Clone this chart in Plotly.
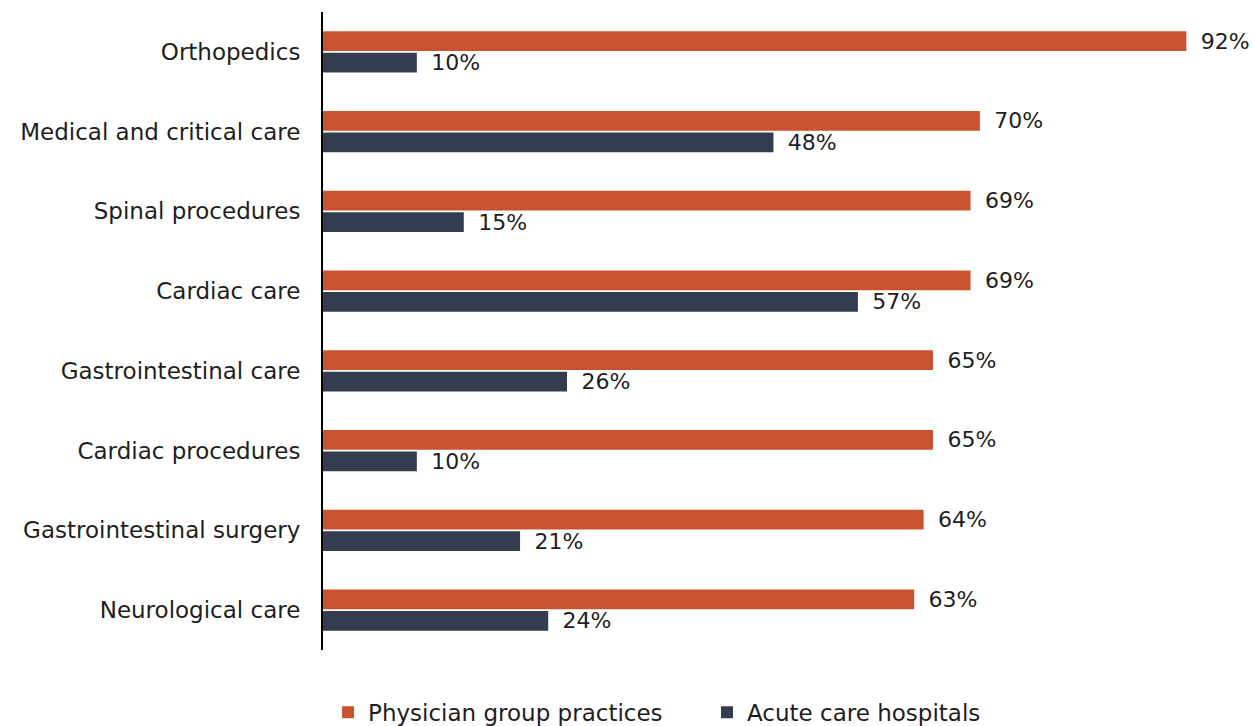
import plotly.graph_objects as go

# Service lines, top to bottom
categories = [
    "Orthopedics",
    "Medical and critical care",
    "Spinal procedures",
    "Cardiac care",
    "Gastrointestinal care",
    "Cardiac procedures",
    "Gastrointestinal surgery",
    "Neurological care",
]

# Share of each setting (percent)
physician_group = [92, 70, 69, 69, 65, 65, 64, 63]
acute_care = [10, 48, 15, 57, 26, 10, 21, 24]

series_names = ["Physician group practices", "Acute care hospitals"]
series_colors = ["#C9532E", "#333D4F"]

FONT = "DejaVu Sans"
FONT_SIZE = 23
LABEL_SIZE = 22
TEXT_COLOR = "#1e1e1e"
LEAD = "\u00a0\u2009"  # small gap between bar end and its value label

fig = go.Figure()
for name, values, color in zip(series_names, [physician_group, acute_care], series_colors):
    fig.add_trace(
        go.Bar(
            name=name,
            y=categories,
            x=values,
            orientation="h",
            marker=dict(color=color, line=dict(width=0)),
            text=[f"{LEAD}{v}%" for v in values],
            textposition="outside",
            constraintext="none",
            textfont=dict(family=FONT, size=LABEL_SIZE, color=TEXT_COLOR),
            cliponaxis=False,
            hoverinfo="skip",
        )
    )

fig.update_layout(
    width=1253,
    height=726,
    margin=dict(l=323, r=0, t=12, b=76, autoexpand=False),
    paper_bgcolor="white",
    plot_bgcolor="white",
    barmode="group",
    bargap=0.4625,
    bargroupgap=0.07,
    font=dict(family=FONT, size=FONT_SIZE, color=TEXT_COLOR),
    xaxis=dict(
        range=[0, 99.1],
        showgrid=False,
        zeroline=False,
        showticklabels=False,
        showline=False,
        fixedrange=True,
    ),
    yaxis=dict(
        categoryorder="array",
        categoryarray=categories,
        autorange="reversed",
        showgrid=False,
        zeroline=False,
        showline=True,
        linecolor="#000000",
        linewidth=2,
        ticks="",
        ticklabelstandoff=16,
        tickfont=dict(family=FONT, size=FONT_SIZE, color=TEXT_COLOR),
        fixedrange=True,
    ),
    legend=dict(
        orientation="h",
        x=0.0054,
        xanchor="left",
        yref="container",
        y=0.019,
        yanchor="middle",
        entrywidth=334,
        entrywidthmode="pixels",
        font=dict(family=FONT, size=FONT_SIZE, color=TEXT_COLOR),
        bgcolor="rgba(0,0,0,0)",
    ),
    showlegend=True,
)

fig.write_html("out.html")
